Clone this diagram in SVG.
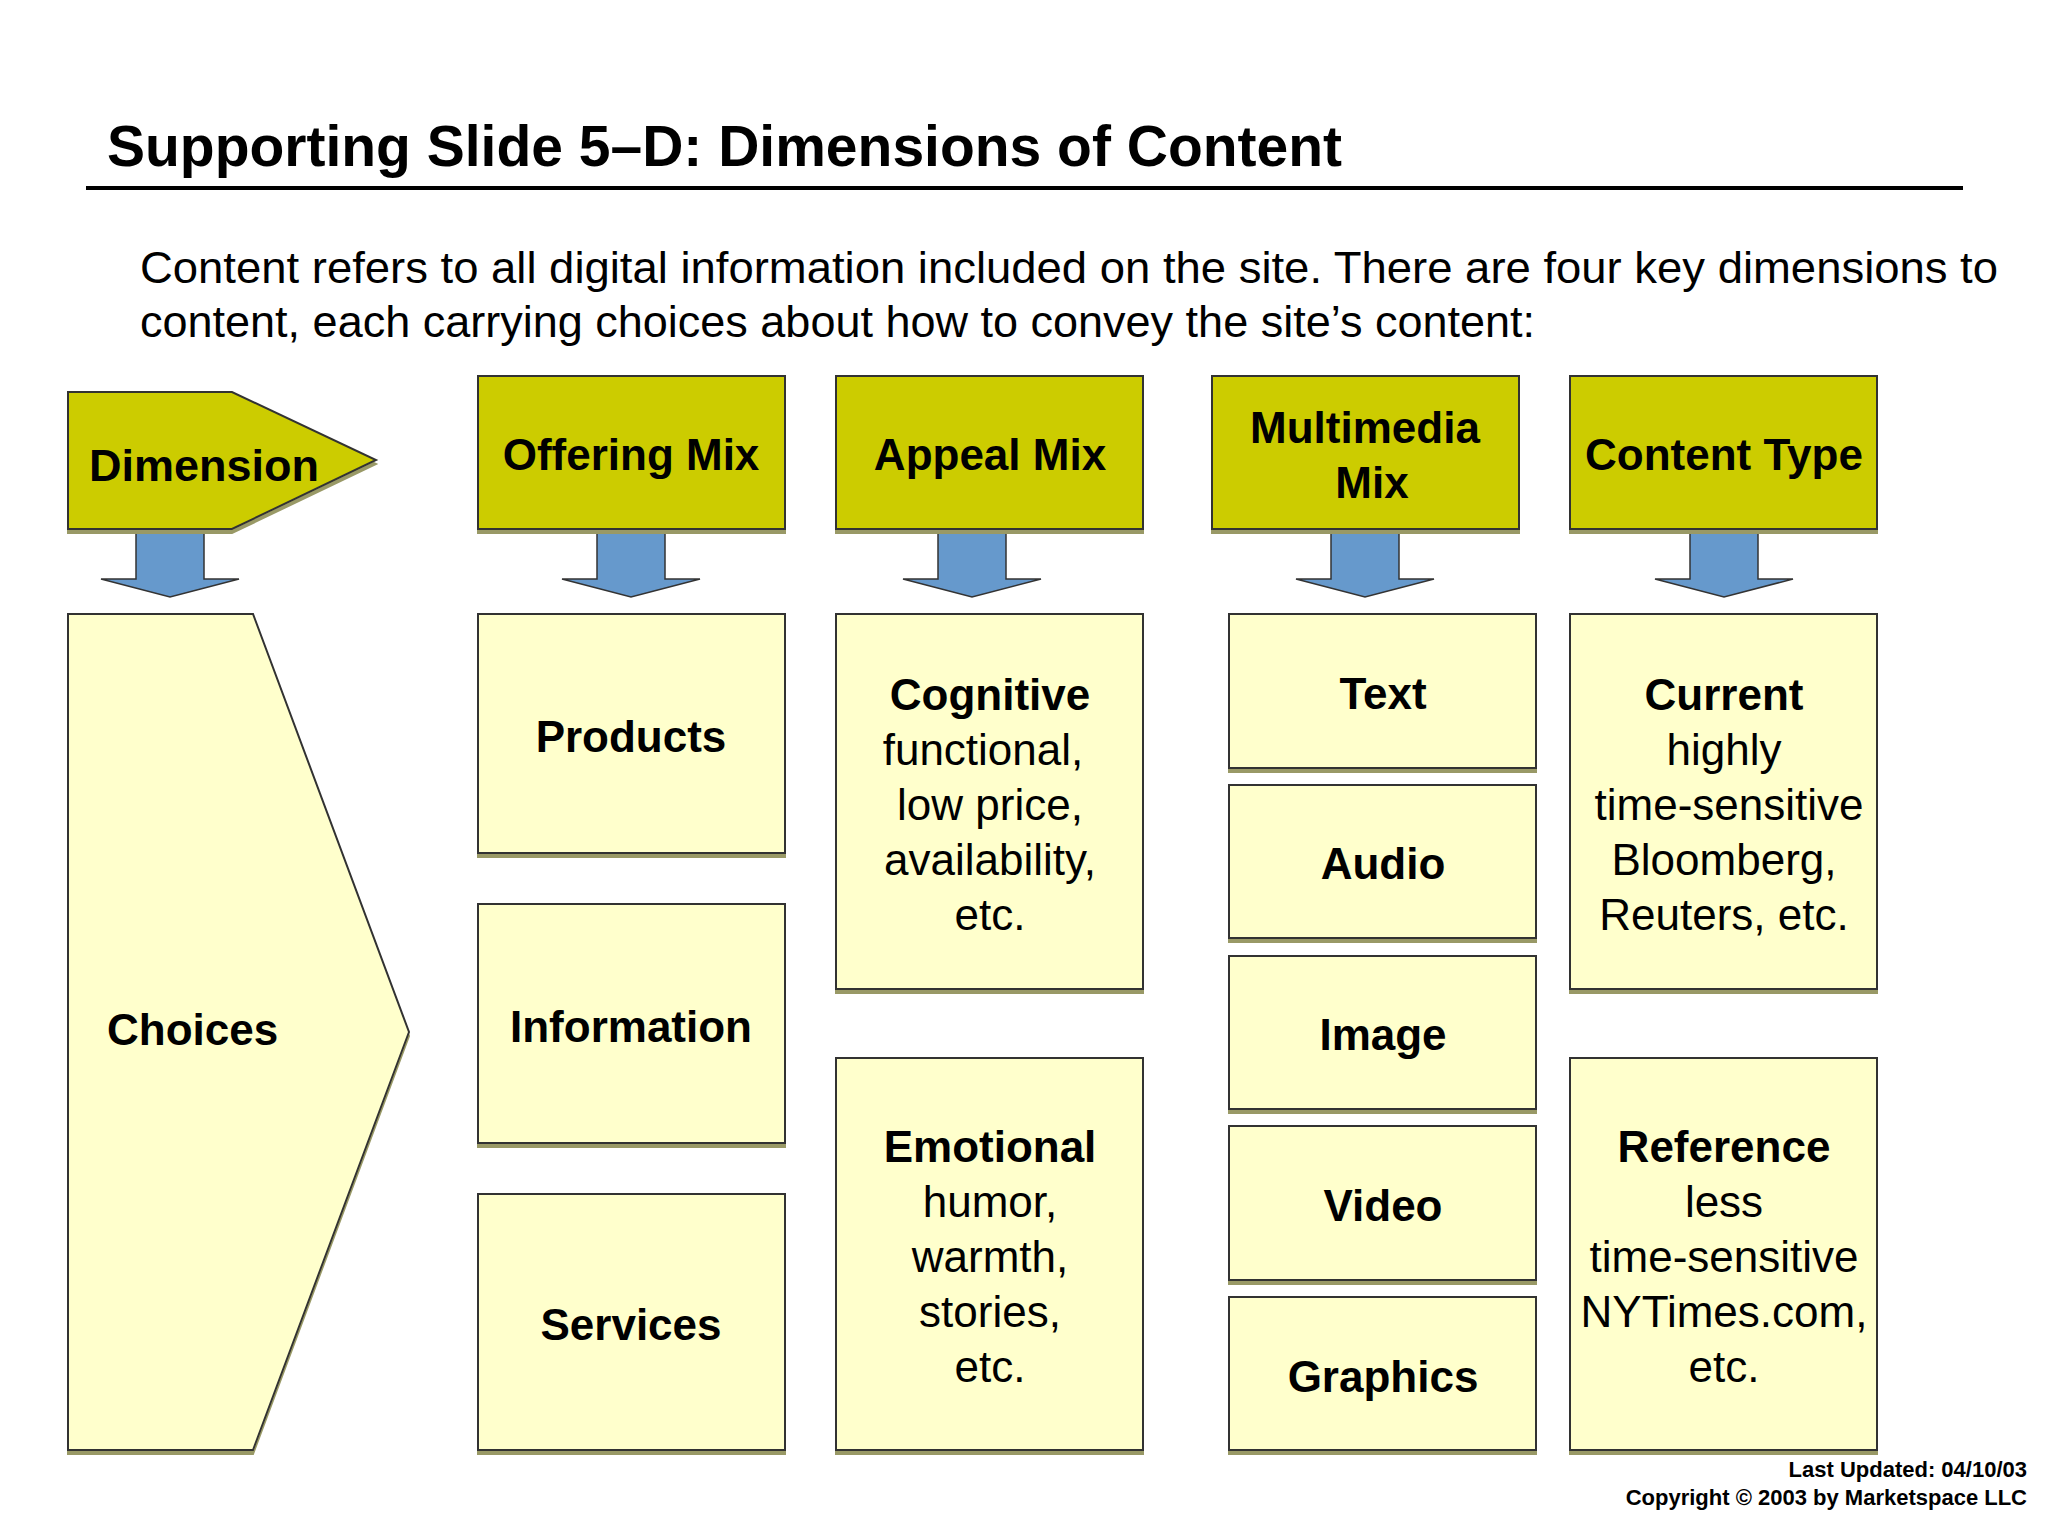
<svg xmlns="http://www.w3.org/2000/svg" width="2048" height="1536" viewBox="0 0 2048 1536">
<style>
text{font-family:"Liberation Sans",Arial,sans-serif;fill:#000}
.h{fill:#CCCC00;stroke:#333;stroke-width:2}
.b{fill:#FFFFCC;stroke:#333;stroke-width:2}
.a{fill:#6699CC;stroke:#333;stroke-width:1.5}
.t{font-size:44px;font-weight:bold;text-anchor:middle}
.n{font-size:44px;text-anchor:middle}
</style>
<defs>
<filter id="sh" x="-5%" y="-5%" width="110%" height="110%"><feDropShadow dx="0" dy="4" stdDeviation="0" flood-color="#999966"/></filter>
</defs>
<rect width="2048" height="1536" fill="#fff"/>
<text x="107" y="166" style="font-size:57px;font-weight:bold">Supporting Slide 5–D: Dimensions of Content</text>
<line x1="86" y1="188" x2="1963" y2="188" stroke="#000" stroke-width="4"/>
<text x="140" y="283" style="font-size:45px" textLength="1858" lengthAdjust="spacingAndGlyphs">Content refers to all digital information included on the site. There are four key dimensions to</text>
<text x="140" y="337" style="font-size:45px">content, each carrying choices about how to convey the site’s content:</text>
<g id="connectors">
<polygon class="a" points="136,529 204,529 204,579 239,579 170,597 101,579 136,579"/>
<polygon class="a" points="597,529 665,529 665,579 700,579 631,597 562,579 597,579"/>
<polygon class="a" points="938,529 1006,529 1006,579 1041,579 972,597 903,579 938,579"/>
<polygon class="a" points="1331,529 1399,529 1399,579 1434,579 1365,597 1296,579 1331,579"/>
<polygon class="a" points="1690,529 1758,529 1758,579 1793,579 1724,597 1655,579 1690,579"/>
</g>
<g id="dimension"><polygon class="h" filter="url(#sh)" points="68,392 232,392 376,460 232,529 68,529"/><text x="89" y="481" style="font-size:45px;font-weight:bold">Dimension</text></g>
<g id="offering"><rect class="h" filter="url(#sh)" x="478" y="376" width="307" height="153"/><text class="t" x="631" y="470">Offering Mix</text></g>
<g id="appeal"><rect class="h" filter="url(#sh)" x="836" y="376" width="307" height="153"/><text class="t" x="990" y="470">Appeal Mix</text></g>
<g id="multimedia"><rect class="h" filter="url(#sh)" x="1212" y="376" width="307" height="153"/><text class="t" x="1365" y="443">Multimedia</text><text class="t" x="1372" y="498">Mix</text></g>
<g id="contenttype"><rect class="h" filter="url(#sh)" x="1570" y="376" width="307" height="153"/><text class="t" x="1724" y="470">Content Type</text></g>
<g id="choices"><polygon class="b" filter="url(#sh)" points="68,614 253,614 409,1032 253,1450 68,1450"/><text x="107" y="1045" style="font-size:44px;font-weight:bold">Choices</text></g>
<g id="products"><rect class="b" filter="url(#sh)" x="478" y="614" width="307" height="239"/><text class="t" x="631" y="752">Products</text></g>
<g id="information"><rect class="b" filter="url(#sh)" x="478" y="904" width="307" height="239"/><text class="t" x="631" y="1042">Information</text></g>
<g id="services"><rect class="b" filter="url(#sh)" x="478" y="1194" width="307" height="256"/><text class="t" x="631" y="1340">Services</text></g>
<g id="cognitive"><rect class="b" filter="url(#sh)" x="836" y="614" width="307" height="375"/><text class="t" x="990" y="710">Cognitive</text><text class="n" x="983" y="765">functional,</text><text class="n" x="990" y="820">low price,</text><text class="n" x="990" y="875">availability,</text><text class="n" x="990" y="930">etc.</text></g>
<g id="emotional"><rect class="b" filter="url(#sh)" x="836" y="1058" width="307" height="392"/><text class="t" x="990" y="1162">Emotional</text><text class="n" x="990" y="1217">humor,</text><text class="n" x="990" y="1272">warmth,</text><text class="n" x="990" y="1327">stories,</text><text class="n" x="990" y="1382">etc.</text></g>
<g id="text"><rect class="b" filter="url(#sh)" x="1229" y="614" width="307" height="154"/><text class="t" x="1383" y="709">Text</text></g>
<g id="audio"><rect class="b" filter="url(#sh)" x="1229" y="785" width="307" height="153"/><text class="t" x="1383" y="879">Audio</text></g>
<g id="image"><rect class="b" filter="url(#sh)" x="1229" y="956" width="307" height="153"/><text class="t" x="1383" y="1050">Image</text></g>
<g id="video"><rect class="b" filter="url(#sh)" x="1229" y="1126" width="307" height="154"/><text class="t" x="1383" y="1221">Video</text></g>
<g id="graphics"><rect class="b" filter="url(#sh)" x="1229" y="1297" width="307" height="153"/><text class="t" x="1383" y="1392">Graphics</text></g>
<g id="current"><rect class="b" filter="url(#sh)" x="1570" y="614" width="307" height="375"/><text class="t" x="1724" y="710">Current</text><text class="n" x="1724" y="765">highly</text><text class="n" x="1729" y="820">time-sensitive</text><text class="n" x="1724" y="875">Bloomberg,</text><text class="n" x="1724" y="930">Reuters, etc.</text></g>
<g id="reference"><rect class="b" filter="url(#sh)" x="1570" y="1058" width="307" height="392"/><text class="t" x="1724" y="1162">Reference</text><text class="n" x="1724" y="1217">less</text><text class="n" x="1724" y="1272">time-sensitive</text><text class="n" x="1724" y="1327">NYTimes.com,</text><text class="n" x="1724" y="1382">etc.</text></g>
<text x="2027" y="1477" style="font-size:22px;font-weight:bold;text-anchor:end">Last Updated: 04/10/03</text>
<text x="2027" y="1505" style="font-size:22px;font-weight:bold;text-anchor:end">Copyright © 2003 by Marketspace LLC</text>
</svg>
